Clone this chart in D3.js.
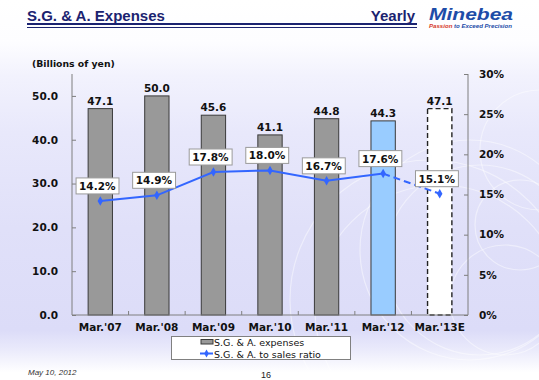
<!DOCTYPE html>
<html><head><meta charset="utf-8">
<script src="https://cdn.jsdelivr.net/npm/d3@7/dist/d3.min.js"></script>
<style>html,body{margin:0;padding:0;background:#fff;}svg{display:block;}</style>
</head><body>
<script>
const categories = ["Mar.'07","Mar.'08","Mar.'09","Mar.'10","Mar.'11","Mar.'12","Mar.'13E"];
const expenses = [47.1, 50.0, 45.6, 41.1, 44.8, 44.3, 47.1];
const ratio = [14.2, 14.9, 17.8, 18.0, 16.7, 17.6, 15.1];
const leftTicks = [0, 10, 20, 30, 40, 50];
const rightTicks = [0, 5, 10, 15, 20, 25, 30];
const barKinds = ["actual","actual","actual","actual","actual","latest","estimate"];
const seriesNames = ["S.G. & A. expenses", "S.G. & A. to sales ratio"];

const W = 539, H = 380;
const svg = d3.select("body").append("svg").attr("width", W).attr("height", H);
const defs = svg.append("defs");
const grad = defs.append("linearGradient").attr("id","bg").attr("x1",0).attr("y1",0).attr("x2",0).attr("y2",1);
[[0,"#ffffff"],[0.11,"#fdfdff"],[0.2,"#f2f2fd"],[0.35,"#e8e8fb"],[0.6,"#e0e0f9"],[0.87,"#dcdcf8"],[0.92,"#eaeafb"],[0.98,"#ffffff"]]
  .forEach(([o,c]) => grad.append("stop").attr("offset",o).attr("stop-color",c));
svg.append("rect").attr("width",W).attr("height",H).attr("fill","url(#bg)");

// decorative faint circles
const deco = svg.append("g").attr("fill","none").attr("stroke","#ffffff").attr("stroke-opacity",0.45).attr("stroke-width",1.2);
[[520,225,45],[505,300,55],[470,250,110],[480,260,95],[430,300,140],[440,310,125],[540,150,60]].forEach(([cx,cy,r]) =>
  deco.append("circle").attr("cx",cx).attr("cy",cy).attr("r",r));

// Header
const navy = "#1b2370";
svg.append("text").attr("x",27).attr("y",21).text("S.G. & A. Expenses")
  .attr("font-family","'Liberation Sans', Arial, sans-serif").attr("font-weight","bold").attr("font-size",15).attr("fill",navy);
svg.append("text").attr("x",415).attr("y",21).attr("text-anchor","end").text("Yearly")
  .attr("font-family","'Liberation Sans', Arial, sans-serif").attr("font-weight","bold").attr("font-size",15).attr("fill",navy);
svg.append("line").attr("x1",27).attr("x2",417).attr("y1",24).attr("y2",24).attr("stroke",navy).attr("stroke-width",2);
svg.append("line").attr("x1",27).attr("x2",417).attr("y1",27.5).attr("y2",27.5).attr("stroke",navy).attr("stroke-width",1);
svg.append("text").attr("x",429).attr("y",20).text("Minebea")
  .attr("font-family","'Liberation Sans', Arial, sans-serif").attr("font-weight","bold").attr("font-style","italic")
  .attr("font-size",16).attr("fill","#1d4ca8").attr("textLength",84).attr("lengthAdjust","spacingAndGlyphs");
const tag = svg.append("text").attr("x",429).attr("y",28).attr("font-family","'Liberation Sans', Arial, sans-serif")
  .attr("font-weight","bold").attr("font-style","italic").attr("font-size",6).attr("textLength",83).attr("lengthAdjust","spacingAndGlyphs");
tag.append("tspan").attr("fill","#d63a2a").text("Passion");
tag.append("tspan").attr("fill","#1d4ca8").text(" to Exceed Precision");

// Chart
const font = "'DejaVu Sans', Verdana, sans-serif";
const fs = 10.5;
const x0 = 72, x1 = 468, yBase = 315, yTop = 74;
const x = d3.scaleBand().domain(categories).range([x0, x1]).padding(0);
const yL = d3.scaleLinear().domain([0, 55]).range([yBase, yTop]);
const yR = d3.scaleLinear().domain([0, 30]).range([yBase, yTop]);
const barW = x.bandwidth() * 0.43;
const cx = d => x(d) + x.bandwidth()/2;

svg.append("text").attr("x",32).attr("y",67).text("(Billions of yen)")
  .attr("font-family",font).attr("font-weight","bold").attr("font-size",9.3).attr("fill","#111");

const axisColor = "#7f7f7f";
// left axis
const gL = svg.append("g").attr("transform",`translate(${x0},0)`)
  .call(d3.axisRight(yL).tickValues(leftTicks).tickSize(4).tickFormat(""));
gL.select(".domain").remove();
gL.selectAll("line").attr("stroke",axisColor);
svg.append("line").attr("x1",x0).attr("x2",x0).attr("y1",yTop).attr("y2",yBase).attr("stroke",axisColor);
svg.append("g").selectAll("text").data(leftTicks).join("text")
  .attr("x",58).attr("y",d=>yL(d)).attr("dy","0.36em").attr("text-anchor","end")
  .text(d=>d3.format(".1f")(d)).attr("font-family",font).attr("font-weight","bold").attr("font-size",fs).attr("fill","#111");

// right axis
const gR = svg.append("g").attr("transform",`translate(${x1},0)`)
  .call(d3.axisLeft(yR).tickValues(rightTicks).tickSize(4).tickFormat(""));
gR.select(".domain").remove();
gR.selectAll("line").attr("stroke",axisColor);
svg.append("line").attr("x1",x1).attr("x2",x1).attr("y1",yTop).attr("y2",yBase).attr("stroke",axisColor);
svg.append("g").selectAll("text").data(rightTicks).join("text")
  .attr("x",479).attr("y",d=>yR(d)).attr("dy","0.36em").attr("text-anchor","start")
  .text(d=>d+"%").attr("font-family",font).attr("font-weight","bold").attr("font-size",fs).attr("fill","#111");

// bars
const bars = svg.append("g");
categories.forEach((c,i) => {
  const k = barKinds[i];
  const r = bars.append("rect").attr("x",cx(c)-barW/2).attr("width",barW)
    .attr("y",yL(expenses[i])).attr("height",yBase - yL(expenses[i]));
  if (k === "actual") r.attr("fill","#999999").attr("stroke","#3a3a3a").attr("stroke-width",1);
  else if (k === "latest") r.attr("fill","#99ccff").attr("stroke","#3a3a3a").attr("stroke-width",1);
  else r.attr("fill","#ffffff").attr("stroke","#222").attr("stroke-width",1.4).attr("stroke-dasharray","5,3");
  bars.append("text").attr("x",cx(c)).attr("y",yL(expenses[i])-4).attr("text-anchor","middle")
    .text(d3.format(".1f")(expenses[i])).attr("font-family",font).attr("font-weight","bold").attr("font-size",fs).attr("fill","#111");
});

// x axis
svg.append("line").attr("x1",x0).attr("x2",x1).attr("y1",yBase).attr("y2",yBase).attr("stroke",axisColor);
const gX = svg.append("g").attr("transform",`translate(0,${yBase})`)
  .call(d3.axisTop(x).tickSize(0).tickFormat(""));
gX.select(".domain").remove();
svg.append("g").selectAll("line").data(categories.slice(1)).join("line")
  .attr("x1",d=>x(d)).attr("x2",d=>x(d)).attr("y1",yBase).attr("y2",yBase-4).attr("stroke",axisColor);
svg.append("g").selectAll("text").data(categories).join("text")
  .attr("x",d=>cx(d)).attr("y",330.5).attr("text-anchor","middle").text(d=>d)
  .attr("font-family",font).attr("font-weight","bold").attr("font-size",fs).attr("fill","#111");

// line
const blue = "#3366ff";
const pts = categories.map((c,i)=>[cx(c), yR(ratio[i])]);
const line = d3.line();
svg.append("path").attr("d",line(pts.slice(0,6))).attr("fill","none").attr("stroke",blue).attr("stroke-width",2);
svg.append("path").attr("d",line(pts.slice(5))).attr("fill","none").attr("stroke",blue).attr("stroke-width",2).attr("stroke-dasharray","7,4");
const diamond = d3.symbol().type(d3.symbolDiamond).size(26);
svg.append("g").selectAll("path").data(pts).join("path")
  .attr("transform",d=>`translate(${d[0]},${d[1]})`).attr("d",diamond).attr("fill",blue);

// percent labels
const lab = svg.append("g");
pts.forEach((p,i) => {
  const t = lab.append("text").attr("x",p[0]-3).attr("y",p[1]-11).attr("text-anchor","middle")
    .text(d3.format(".1f")(ratio[i])+"%").attr("font-family",font).attr("font-weight","bold").attr("font-size",fs).attr("fill","#111");
  const bb = t.node().getBBox();
  lab.insert("rect", () => t.node()).attr("x",bb.x-3).attr("width",bb.width+6)
    .attr("y",p[1]-7-16).attr("height",16).attr("fill","#fff").attr("stroke","#9a9a9a").attr("stroke-width",1);
});

// legend
const lg = svg.append("g");
lg.append("rect").attr("x",171.5).attr("y",336.5).attr("width",179).attr("height",23).attr("fill","#fff").attr("stroke","#808080");
lg.append("rect").attr("x",201).attr("y",339.5).attr("width",12).attr("height",4.5).attr("fill","#999").attr("stroke","#3a3a3a");
lg.append("text").attr("x",214).attr("y",345.5).text(seriesNames[0]).attr("font-family",font).attr("font-size",9.5).attr("fill","#111");
lg.append("line").attr("x1",200).attr("x2",213).attr("y1",353.5).attr("y2",353.5).attr("stroke",blue).attr("stroke-width",2);
lg.append("path").attr("transform","translate(206.5,353.5)").attr("d",d3.symbol().type(d3.symbolDiamond).size(18)).attr("fill",blue);
lg.append("text").attr("x",214).attr("y",357.5).text(seriesNames[1]).attr("font-family",font).attr("font-size",9.5).attr("fill","#111");

// footer
svg.append("text").attr("x",28).attr("y",375).text("May 10, 2012")
  .attr("font-family","'Liberation Sans', Arial, sans-serif").attr("font-style","italic").attr("font-size",8).attr("fill","#333");
svg.append("text").attr("x",266).attr("y",378).attr("text-anchor","middle").text("16")
  .attr("font-family","'Liberation Sans', Arial, sans-serif").attr("font-size",9).attr("fill","#222");
</script>
</body></html>
